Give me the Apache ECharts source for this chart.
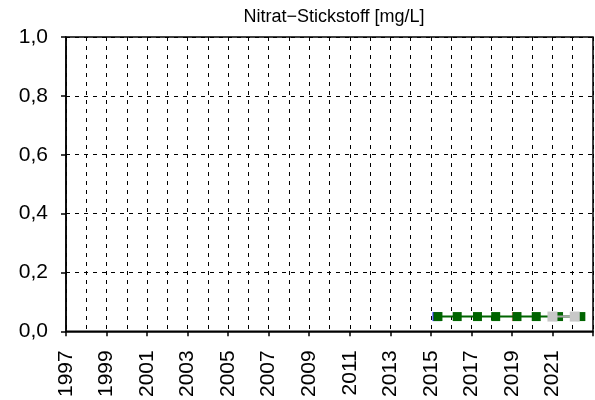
<!DOCTYPE html>
<html>
<head>
<meta charset="utf-8">
<script src="https://cdn.jsdelivr.net/npm/echarts@6/dist/echarts.min.js"></script>
<style>html,body{margin:0;padding:0;background:#fff}#c{width:595px;height:400px}</style>
</head>
<body>
<div id="c"></div>
<script>
const titleText = 'Nitrat\u2212Stickstoff [mg/L]';
const blueYears = [2015.3];
const blueValues = [0.05];
const redYears = [2019.22];
const redValues = [0.05];
const greenYears = [2015.35, 2016.3, 2017.3, 2018.2, 2019.25, 2020.2, 2021.3, 2022.4];
const greenValues = [0.05, 0.05, 0.05, 0.05, 0.05, 0.05, 0.05, 0.05];
const greyYears = [2021.0, 2022.1];
const greyValues = [0.05, 0.05];

const zip = (xs, ys) => xs.map((x, i) => [x, ys[i]]);
const font = '"Liberation Sans", Arial, sans-serif';
const chart = echarts.init(document.getElementById('c'), null, {renderer: 'canvas'});
chart.setOption({
  animation: false,
  title: {text: titleText, left: 329, top: 3, textAlign: 'center',
    textStyle: {fontFamily: font, fontSize: 18, fontWeight: 'normal', color: '#000'}},
  grid: {left: 66, right: 2, top: 37, bottom: 68, show: true, borderColor: '#000', borderWidth: 1.5, backgroundColor: 'transparent'},
  xAxis: {
    type: 'value', min: 1997, max: 2023, interval: 2,
    axisLine: {show: true, onZero: false, lineStyle: {color: '#000', width: 1.5}},
    axisTick: {show: true, length: 5, lineStyle: {color: '#000', width: 1.5}},
    axisLabel: {rotate: 90, fontFamily: font, fontSize: 21, color: '#000', margin: 19,
      formatter: v => (v <= 2021 ? String(v) : '')},
    splitLine: {show: true, lineStyle: {color: '#000', type: [4, 5], width: 1}},
    minorTick: {show: false, splitNumber: 2},
    minorSplitLine: {show: true, lineStyle: {color: '#000', type: [4, 5], width: 1}}
  },
  yAxis: {
    type: 'value', min: 0, max: 1, interval: 0.2,
    axisLine: {show: true, lineStyle: {color: '#000', width: 1.5}},
    axisTick: {show: true, length: 5, lineStyle: {color: '#000', width: 1.5}},
    axisLabel: {fontFamily: font, fontSize: 21, color: '#000', margin: 18,
      formatter: v => v.toFixed(1).replace('.', ',')},
    splitLine: {show: true, lineStyle: {color: '#000', type: [4, 5], width: 1}}
  },
  series: [
    {type: 'line', data: zip(blueYears, blueValues), symbol: 'rect', symbolSize: 9,
      itemStyle: {color: '#3030ff'}, lineStyle: {color: '#3030ff', width: 2}, z: 1},
    {type: 'line', data: zip(redYears, redValues), symbol: 'rect', symbolSize: 9,
      itemStyle: {color: '#ff8080'}, lineStyle: {color: '#ff8080', width: 2}, z: 1},
    {type: 'line', data: zip(greenYears, greenValues), symbol: 'rect', symbolSize: 9,
      itemStyle: {color: '#006400'}, lineStyle: {color: '#006400', width: 2}, z: 2},
    {type: 'line', data: zip(greyYears, greyValues), symbol: 'rect', symbolSize: 10,
      itemStyle: {color: '#c8c8c8'}, lineStyle: {color: '#a8a8a8', width: 2}, z: 3}
  ]
});
</script>
</body>
</html>
